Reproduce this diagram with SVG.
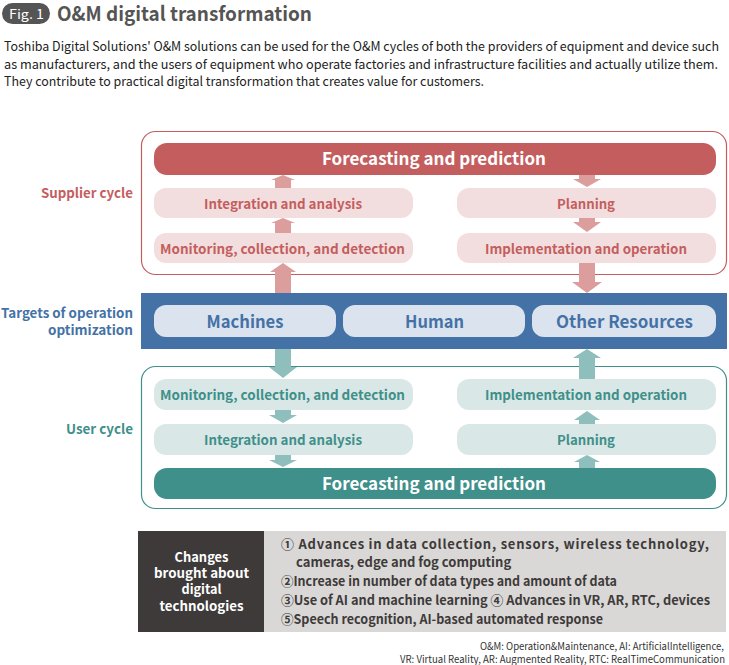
<svg xmlns="http://www.w3.org/2000/svg" width="729" height="665" viewBox="0 0 729 665">
<style>
text{font-family:"Noto Sans CJK JP","Noto Sans",sans-serif}
.b{font-weight:bold}
.c{text-anchor:middle}
.r{text-anchor:end}
.red{fill:#c45e5e}
.pink{fill:#f2dede}
.ra{fill:#dc9d9d}
.teal{fill:#3f8f8a}
.mint{fill:#d9e8e6}
.ta{fill:#8fbfbc}
.blue{fill:#4472a6}
.pill{fill:#dbe3ee}
.t13{font-size:13.5px}
.t17{font-size:17.5px}
</style>
<rect width="729" height="665" fill="#fff"/>
<g id="title">
<rect x="2" y="3" width="48" height="21" rx="10.5" fill="#555"/>
<text x="26.5" y="18.5" class="c" font-size="13" fill="#fff" textLength="35" lengthAdjust="spacingAndGlyphs">Fig. 1</text>
<text x="57" y="21" class="b" font-size="20" fill="#555" textLength="255" lengthAdjust="spacingAndGlyphs">O&amp;M digital transformation</text>
</g>
<g id="intro" font-size="13" fill="#222">
<text x="4" y="51" textLength="715" lengthAdjust="spacingAndGlyphs">Toshiba Digital Solutions' O&amp;M solutions can be used for the O&amp;M cycles of both the providers of equipment and device such</text>
<text x="4" y="69" textLength="714" lengthAdjust="spacingAndGlyphs">as manufacturers, and the users of equipment who operate factories and infrastructure facilities and actually utilize them.</text>
<text x="4" y="86" textLength="480" lengthAdjust="spacingAndGlyphs">They contribute to practical digital transformation that creates value for customers.</text>
</g>
<g id="supplier">
<rect x="141.5" y="131.5" width="585" height="143" rx="14" fill="#fff" stroke="#c45e5e" stroke-width="1.2"/>
<text x="133" y="198" class="b r t13 red" textLength="92" lengthAdjust="spacingAndGlyphs">Supplier cycle</text>
<rect x="154" y="143" width="562" height="32" rx="13" class="red"/>
<text x="434" y="165" class="b c t17" fill="#fff" textLength="224" lengthAdjust="spacingAndGlyphs">Forecasting and prediction</text>
<rect x="154" y="188" width="259" height="30" rx="12" class="pink"/>
<text x="283" y="208.5" class="b c t13 red" textLength="158" lengthAdjust="spacingAndGlyphs">Integration and analysis</text>
<rect x="457" y="188" width="259" height="30" rx="12" class="pink"/>
<text x="586" y="208.5" class="b c t13 red" textLength="58" lengthAdjust="spacingAndGlyphs">Planning</text>
<rect x="154" y="233" width="259" height="30" rx="12" class="pink"/>
<text x="282.5" y="253.5" class="b c t13 red" textLength="245" lengthAdjust="spacingAndGlyphs">Monitoring, collection, and detection</text>
<rect x="457" y="233" width="259" height="30" rx="12" class="pink"/>
<text x="586" y="253.5" class="b c t13 red" textLength="202" lengthAdjust="spacingAndGlyphs">Implementation and operation</text>
</g>
<g id="targets">
<rect x="141" y="293" width="586" height="56" class="blue"/>
<text x="133" y="318" class="b r blue" font-size="13" textLength="132" lengthAdjust="spacingAndGlyphs">Targets of operation</text>
<text x="133" y="335" class="b r blue" font-size="13" textLength="85" lengthAdjust="spacingAndGlyphs">optimization</text>
<rect x="154" y="305" width="182" height="32" rx="12" class="pill"/>
<text x="245" y="328" class="b c t17 blue" textLength="77" lengthAdjust="spacingAndGlyphs">Machines</text>
<rect x="343" y="305" width="182" height="32" rx="12" class="pill"/>
<text x="434.5" y="328" class="b c t17 blue" textLength="59" lengthAdjust="spacingAndGlyphs">Human</text>
<rect x="532" y="305" width="184" height="32" rx="12" class="pill"/>
<text x="624.5" y="328" class="b c t17 blue" textLength="137" lengthAdjust="spacingAndGlyphs">Other Resources</text>
</g>
<g id="user">
<rect x="141.5" y="366.5" width="585" height="142" rx="14" fill="#fff" stroke="#3f8f8a" stroke-width="1.2"/>
<text x="133" y="434" class="b r t13 teal" textLength="67" lengthAdjust="spacingAndGlyphs">User cycle</text>
<rect x="154" y="379" width="259" height="31" rx="12" class="mint"/>
<text x="282.5" y="400" class="b c t13 teal" textLength="245" lengthAdjust="spacingAndGlyphs">Monitoring, collection, and detection</text>
<rect x="457" y="379" width="259" height="31" rx="12" class="mint"/>
<text x="586" y="400" class="b c t13 teal" textLength="202" lengthAdjust="spacingAndGlyphs">Implementation and operation</text>
<rect x="154" y="424" width="259" height="31" rx="12" class="mint"/>
<text x="283" y="445" class="b c t13 teal" textLength="158" lengthAdjust="spacingAndGlyphs">Integration and analysis</text>
<rect x="457" y="424" width="259" height="31" rx="12" class="mint"/>
<text x="586" y="445" class="b c t13 teal" textLength="58" lengthAdjust="spacingAndGlyphs">Planning</text>
<rect x="154" y="468" width="562" height="31" rx="13" class="teal"/>
<text x="434" y="490" class="b c t17" fill="#fff" textLength="224" lengthAdjust="spacingAndGlyphs">Forecasting and prediction</text>
</g>
<g id="connectors">
<polygon class="ra" points="283,175 295,180 291,180 291,188 275,188 275,180 271,180"/>
<polygon class="ra" points="283,218 295,223 291,223 291,233 275,233 275,223 271,223"/>
<polygon class="ra" points="283,263 296,272 291,272 291,293 275,293 275,272 270,272"/>
<polygon class="ra" points="579,175 595,175 595,179 601,179 587,187 573,179 579,179"/>
<polygon class="ra" points="579,218 595,218 595,222 601,222 587,232 573,222 579,222"/>
<polygon class="ra" points="579,263 595,263 595,282 602,282 587,293 572,282 579,282"/>
<polygon class="ta" points="275,349 291,349 291,367 297,367 283,378 269,367 275,367"/>
<polygon class="ta" points="275,410 291,410 291,415 297,415 283,423 269,415 275,415"/>
<polygon class="ta" points="275,455 291,455 291,460 297,460 283,467 269,460 275,460"/>
<polygon class="ta" points="587,349 601,358 595,358 595,379 579,379 579,358 573,358"/>
<polygon class="ta" points="587,411 600,420 595,420 595,424 579,424 579,420 574,420"/>
<polygon class="ta" points="587,455 600,462 595,462 595,468 579,468 579,462 574,462"/>
</g>
<g id="changes">
<rect x="138" y="531" width="126" height="101" fill="#3e3a39"/>
<g class="b c" font-size="13" fill="#fff">
<text x="201.5" y="562" textLength="54" lengthAdjust="spacingAndGlyphs">Changes</text>
<text x="201.5" y="578" textLength="95" lengthAdjust="spacingAndGlyphs">brought about</text>
<text x="201.5" y="594" textLength="40" lengthAdjust="spacingAndGlyphs">digital</text>
<text x="201.5" y="611" textLength="84" lengthAdjust="spacingAndGlyphs">technologies</text>
</g>
<rect x="264" y="531" width="462" height="101" fill="#d9d8d7"/>
<g class="b" font-size="13" fill="#3e3a39">
<text x="281" y="549" textLength="428" lengthAdjust="spacing">① Advances in data collection, sensors, wireless technology,</text>
<text x="296" y="567">cameras, edge and fog computing</text>
<text x="281" y="586" textLength="336" lengthAdjust="spacingAndGlyphs">②Increase in number of data types and amount of data</text>
<text x="281" y="605" textLength="429" lengthAdjust="spacingAndGlyphs">③Use of AI and machine learning  ④ Advances in VR, AR, RTC, devices</text>
<text x="281" y="624" textLength="322" lengthAdjust="spacingAndGlyphs">⑤Speech recognition, AI-based automated response</text>
</g>
</g>
<g id="footnote" font-size="10" fill="#333">
<text x="724" y="650" class="r" textLength="244" lengthAdjust="spacingAndGlyphs">O&amp;M: Operation&amp;Maintenance, AI: ArtificialIntelligence,</text>
<text x="725" y="663" class="r" textLength="325" lengthAdjust="spacingAndGlyphs">VR: Virtual Reality, AR: Augmented Reality, RTC: RealTimeCommunication</text>
</g>
</svg>
